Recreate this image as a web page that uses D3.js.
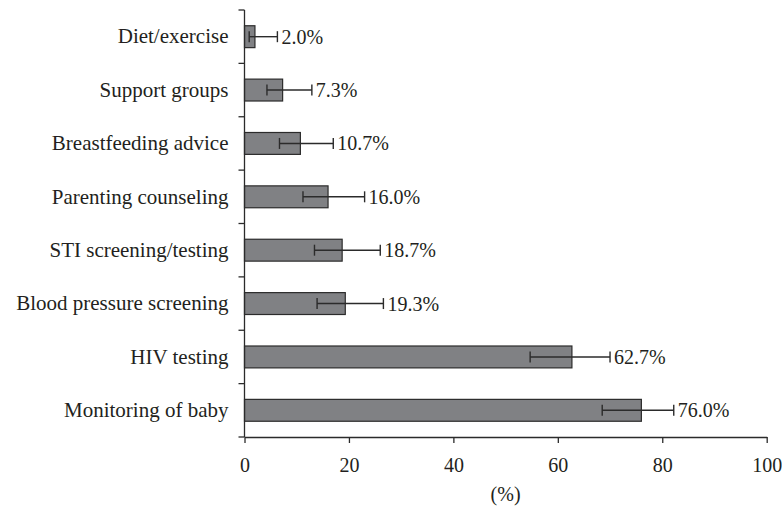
<!DOCTYPE html>
<html>
<head>
<meta charset="utf-8">
<script src="https://cdn.jsdelivr.net/npm/d3@7"></script>
<style>
  html, body { margin: 0; padding: 0; background: #fff; }
  svg { display: block; }
  text { font-family: "Liberation Serif", "Times New Roman", serif; fill: #231f20; }
</style>
</head>
<body>
<svg id="chart" width="782" height="508"></svg>
<script>
const categories = ["Diet/exercise", "Support groups", "Breastfeeding advice", "Parenting counseling",
  "STI screening/testing", "Blood pressure screening", "HIV testing", "Monitoring of baby"];
const values = [2.0, 7.3, 10.7, 16.0, 18.7, 19.3, 62.7, 76.0];
const lower = [0.9, 4.3, 6.7, 11.2, 13.4, 13.9, 54.7, 68.5];
const upper = [6.3, 12.9, 17.0, 23.0, 26.0, 26.6, 70.0, 82.2];
const xTicks = [0, 20, 40, 60, 80, 100];
const xTitle = "(%)";

const margin = { top: 10, left: 244.5, right: 15.3, bottom: 71 };
const W = 782, H = 508;
const svg = d3.select("#chart");
const g = svg.append("g").attr("transform", `translate(${margin.left},${margin.top})`);
const iw = W - margin.left - margin.right;
const ih = H - margin.top - margin.bottom;

const x = d3.scaleLinear().domain([0, 100]).range([0, iw]);
const y = d3.scaleBand().domain(categories).range([0, ih]).paddingInner(0.59).paddingOuter(0.295);

const ink = "#2b2b2b";

// bars
g.selectAll("rect.bar").data(categories).join("rect")
  .attr("class", "bar")
  .attr("x", x(0))
  .attr("y", d => y(d))
  .attr("width", (d, i) => x(values[i]) - x(0))
  .attr("height", y.bandwidth())
  .attr("fill", "#808184")
  .attr("stroke", ink)
  .attr("stroke-width", 1.2);

// error bars
const eb = g.selectAll("g.err").data(categories).join("g").attr("class", "err")
  .attr("transform", d => `translate(0,${y(d) + y.bandwidth() / 2})`);
eb.append("line")
  .attr("x1", (d, i) => x(lower[i])).attr("x2", (d, i) => x(upper[i]))
  .attr("y1", 0).attr("y2", 0)
  .attr("stroke", ink).attr("stroke-width", 1.4);
eb.append("line")
  .attr("x1", (d, i) => x(lower[i])).attr("x2", (d, i) => x(lower[i]))
  .attr("y1", -5.5).attr("y2", 5.5)
  .attr("stroke", ink).attr("stroke-width", 1.4);
eb.append("line")
  .attr("x1", (d, i) => x(upper[i])).attr("x2", (d, i) => x(upper[i]))
  .attr("y1", -5.5).attr("y2", 5.5)
  .attr("stroke", ink).attr("stroke-width", 1.4);
eb.append("text")
  .attr("x", (d, i) => x(upper[i]) + 4)
  .attr("dy", "0.35em")
  .attr("font-size", 20)
  .text((d, i) => values[i].toFixed(1) + "%");

// y axis labels
const yAxis = g.append("g").call(d3.axisLeft(y).tickSize(0).tickPadding(16));
yAxis.select(".domain").remove();
yAxis.selectAll("text").attr("font-size", 21).attr("fill", "#231f20")
  .attr("font-family", "Liberation Serif, serif");

// y axis line with boundary ticks
const bounds = d3.range(categories.length + 1).map(i => y.range()[0] + i * y.step());
g.append("line").attr("x1", 0).attr("x2", 0).attr("y1", 0).attr("y2", ih)
  .attr("stroke", ink).attr("stroke-width", 1.3);
g.selectAll("line.bt").data(bounds).join("line").attr("class", "bt")
  .attr("x1", -6).attr("x2", 0).attr("y1", d => d).attr("y2", d => d)
  .attr("stroke", ink).attr("stroke-width", 1.3);

// x axis
const xAxis = g.append("g").attr("transform", `translate(0,${ih})`)
  .call(d3.axisBottom(x).tickValues(xTicks).tickSize(6).tickPadding(15).tickSizeOuter(0));
xAxis.select(".domain").attr("stroke", ink).attr("stroke-width", 1.3);
xAxis.selectAll(".tick line").attr("stroke", ink).attr("stroke-width", 1.3);
xAxis.selectAll("text").attr("font-size", 20).attr("fill", "#231f20")
  .attr("font-family", "Liberation Serif, serif");

g.append("text")
  .attr("x", iw / 2).attr("y", ih + 64)
  .attr("text-anchor", "middle")
  .attr("font-size", 20)
  .text(xTitle);
</script>
</body>
</html>
